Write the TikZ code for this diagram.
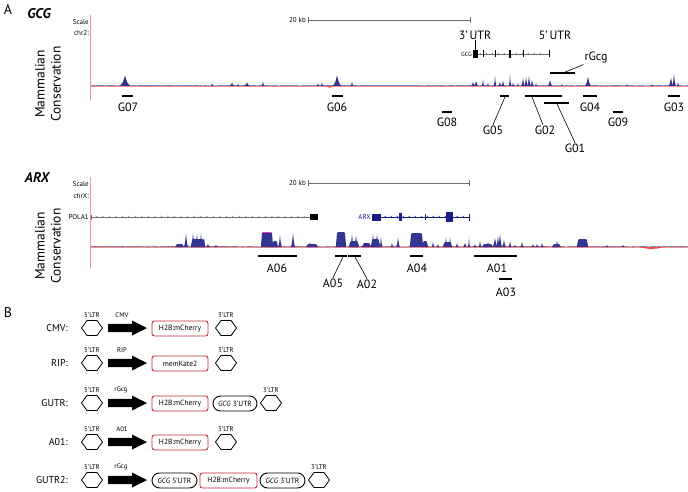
\documentclass[tikz,border=0pt]{standalone}
\usepackage{fontspec}
\setmainfont{PT Sans}
\usetikzlibrary{shapes.misc}
\definecolor{cons}{RGB}{52,52,145}
\definecolor{mred}{RGB}{196,40,52}
\definecolor{pinkline}{RGB}{236,150,150}
\definecolor{genegray}{RGB}{110,110,110}
\definecolor{arxblue}{RGB}{28,28,135}
\newcommand\pk[4]{\fill[cons] ({#1-#2},#4) -- ({#1-0.45*#2},{#4-0.35*#3}) -- (#1,{#4-#3}) -- ({#1+0.45*#2},{#4-0.35*#3}) -- ({#1+#2},#4) -- cycle;}
\newcommand\plat[4]{\fill[cons] ({#1-1.2},#4) -- (#1,{#4-#3+1.5}) -- ({#1+1},{#4-#3}) -- ({#2-1},{#4-#3}) -- (#2,{#4-#3+1.5}) -- ({#2+1.2},#4) -- cycle;}
\newcommand\hexag[2]{\draw[hexst] ({#1-10.5},#2) -- ({#1-5},{#2-7.5}) -- ({#1+5},{#2-7.5}) -- ({#1+10.5},#2) -- ({#1+5},{#2+7.5}) -- ({#1-5},{#2+7.5}) -- cycle;}
\newcommand\blockarrow[2]{\fill (#1,{#2-4.2}) -- ({#1+24},{#2-4.2}) -- ({#1+24},{#2-7.5}) -- ({#1+39},#2) -- ({#1+24},{#2+7.5}) -- ({#1+24},{#2+4.2}) -- (#1,{#2+4.2}) -- cycle;}
\begin{document}
\begin{tikzpicture}[x=1pt,y=-1pt,
  lbl/.style={font=\fontsize{12}{13}\selectfont, inner sep=0.8pt},
  tiny/.style={font=\fontsize{7}{7}\selectfont, inner sep=0},
  bar/.style={line width=1.4},
  lead/.style={line width=0.6},
  panel/.style={font=\fontsize{14}{15}\selectfont, inner sep=0},
  gname/.style={font=\fontsize{14}{15}\selectfont\bfseries\itshape, inner sep=0},
  vlab/.style={font=\fontsize{13.5}{16}\selectfont, align=center, rotate=90, inner sep=0},
  hexst/.style={line width=0.8},
  redbox/.style={draw=mred, line width=0.9, rounded corners=2.5pt, minimum height=15, inner sep=0, font=\fontsize{7.5}{8}\selectfont},
  pill/.style={draw, rounded rectangle, line width=0.9, minimum height=15, inner sep=0, font=\fontsize{7.5}{8}\selectfont},
  rowlab/.style={font=\fontsize{10}{11}\selectfont, inner sep=0, anchor=east},
  slab/.style={font=\fontsize{6.8}{7}\selectfont, inner sep=0},
  chev/.style={line width=0.4},
  scalebar/.style={line width=0.6, genegray}
]
\useasboundingbox (0,0) rectangle (688,492);

% ================= Panel A: GCG =================
\node[panel] (pa) at (8,10) {A};
\node[gname] (gcgt) at (39,14) {GCG};
\node[tiny, anchor=east] (sc1) at (89,22) {Scale};
\node[tiny, anchor=east] (ch1) at (89,33) {chr2:};
\draw[pinkline, line width=0.5] (90,15) -- (90,100);
\node[tiny, anchor=east] (kb1) at (306,20) {20 kb};
\coordinate (sb1a) at (308,20); \coordinate (sb1b) at (470,20);
\draw[scalebar] (sb1a) -- (sb1b);
\draw[scalebar] ([yshift=-3]sb1a) -- ([yshift=3]sb1a);
\draw[scalebar] ([yshift=-3]sb1b) -- ([yshift=3]sb1b);
\node[vlab] (mc1) at (48,84) {Mammalian\\Conservation};

% conservation track GCG
\pgfmathsetseed{11}
\draw[red!45, line width=0.35] (91,86.2) -- (688,86.2);
\draw[cons, line width=0.45] plot[domain=91:688, samples=320] (\x,{85.9-0.8*rnd});
\fill[red!70] (326,86.2) -- (330,87.8) -- (334,86.2) -- cycle;
\foreach \x/\w/\h in {125/5/10.5, 212/1.5/2, 232/3/3, 238/1.5/2, 247/3/3.5, 263/1.5/4.5, 318/1.8/2.5, 322/1.8/3, 337/4/10.5, 352/1.5/4, 473/2/4, 476/2.2/5, 483/1.2/7, 488/1.2/3, 495/1.4/10, 500/1.8/4, 503/1.8/5, 510/1.2/12, 513/1.5/3, 518/1.2/3, 523/1.8/8, 526/1.8/9, 529/1.8/10, 532/1.8/6, 536/1.2/3, 550/2.2/6, 562/1/2, 588/3/9, 627/1.5/1.5, 652/1.5/1.5, 671/2.4/8, 674/1.8/12, 678/1.2/4}
  {\pk{\x}{\w}{\h}{86}}

% GCG gene
\node[tiny, anchor=east, font=\fontsize{6}{6}\selectfont] (gcgg) at (472,54) {GCG};
\coordinate (gs) at (477,54); \coordinate (ge) at (549,54);
\draw[genegray, line width=0.6] (gs) -- (ge);
\foreach \x in {481,487,...,546} \draw[genegray, chev] (\x,52.8) -- ({\x-1.3},54) -- (\x,55.2);
\fill (473,50) rectangle (477.5,58);
\foreach \x in {483,495,523,549} \draw[line width=0.7] (\x,50.5) -- (\x,57.5);
\fill (509.2,50) rectangle (511.2,58);
\node[lbl] (u3) at (475,35) {3'\,UTR};
\node[lbl] (u5) at (555,35) {5'\,UTR};
\draw[lead] (u3.south) -- (475,50);
% rGcg
\coordinate (rga) at (550,73); \coordinate (rgb) at (575,73);
\draw[bar] (rga) -- (rgb);
\node[lbl] (rgcg) at (596,58) {rGcg};
\draw[lead] (563,73) -- (rgcg.south west);

% G regions
\draw[bar] (122,96) -- (133,96); \node[lbl] (g07) at (128,107) {G07};
\draw[bar] (332,96) -- (343,96); \node[lbl] (g06) at (337,107) {G06};
\draw[bar] (442,112) -- (452,112); \node[lbl] (g08) at (447,122) {G08};
\draw[bar] (500,96) -- (509,96); \node[lbl] (g05) at (493,130) {G05};
\draw[lead] (505,97) -- (g05.north);
\draw[bar] (525,96) -- (562,96); \node[lbl] (g02) at (545,130) {G02};
\draw[lead] (532,97) -- ([xshift=-2]g02.north);
\draw[bar] (544,103) -- (569,103); \node[lbl] (g01) at (575,148) {G01};
\draw[lead] (557,104) -- (g01.north);
\draw[bar] (583,96) -- (597,96); \node[lbl] (g04) at (590,107) {G04};
\draw[bar] (613,112) -- (623,112); \node[lbl] (g09) at (618,122) {G09};
\draw[bar] (668,96) -- (680,96); \node[lbl] (g03) at (674,107) {G03};

% ================= ARX =================
\node[gname] (arxt) at (37,178) {ARX};
\node[tiny, anchor=east] (sc2) at (89,184) {Scale};
\node[tiny, anchor=east] (ch2) at (89,196) {chrX:};
\draw[pinkline, line width=0.5] (90,177) -- (90,268);
\node[tiny, anchor=east] (kb2) at (306,183) {20 kb};
\coordinate (sb2a) at (308,183); \coordinate (sb2b) at (469,183);
\draw[scalebar] (sb2a) -- (sb2b);
\draw[scalebar] ([yshift=-3]sb2a) -- ([yshift=3]sb2a);
\draw[scalebar] ([yshift=-3]sb2b) -- ([yshift=3]sb2b);
\node[vlab] (mc2) at (48,246) {Mammalian\\Conservation};

% POLA1
\node[tiny, anchor=east] (pola) at (89,217) {POLA1};
\coordinate (ps) at (91,217); \coordinate (pe) at (310,217);
\draw[genegray, line width=0.6] (ps) -- (pe);
\draw[genegray, line width=0.6] (91,214.5) -- (91,219.5);
\foreach \x in {97,103.5,...,306} \draw[genegray, chev] ({\x-1.3},215.8) -- (\x,217) -- ({\x-1.3},218.2);
\fill (310,214) rectangle (318,220);

% ARX gene
\node[tiny, anchor=east, text=arxblue] (arxg) at (371,217) {ARX};
\coordinate (as) at (381,217); \coordinate (ae) at (469,217);
\draw[arxblue, line width=0.6] (as) -- (ae);
\foreach \x in {386,392,...,466} \draw[arxblue, chev] (\x,215.8) -- ({\x-1.3},217) -- (\x,218.2);
\fill[arxblue] (372,213.5) rectangle (381,220.5);
\fill[arxblue] (399,213) rectangle (401.5,221);
\draw[arxblue, line width=0.6] (425,214) -- (425,220);
\fill[arxblue] (446,212) rectangle (452.5,222);
\draw[arxblue, line width=0.8] (469,213.5) -- (469,220.5);

% conservation track ARX
\pgfmathsetseed{5}
\draw[red!45, line width=0.35] (91,247.2) -- (688,247.2);
\draw[cons, line width=0.45] plot[domain=91:688, samples=320] (\x,{246.9-0.8*rnd});
\fill[red!75] (640,247.2) .. controls (648,249.5) and (656,249.5) .. (663,247.2) -- cycle;
\foreach \a/\b/\h in {176/183/3, 192/204/8, 262/272/15, 273/277/6, 307/317/3, 337/345/15, 350/358/6, 363/370/4, 372/379/8, 411/422/14, 423/427/6, 444/451/5, 483/492/3, 553/560/3, 578/587/8}
  {\plat{\a}{\b}{\h}{247}}
\draw[magenta!80, line width=0.9] (263,232.3) -- (271,232.3);
\foreach \x/\w/\h in {186/2/14, 193/2/14, 197/2/13, 201/1.8/14, 204/1.5/10, 208/2/3, 216/2/2, 275/2/7, 280/1.8/12, 293/2/14, 310/1.5/5, 352/2/13, 356/2/12, 373/2/13, 377/2/13, 381/1.5/10, 392/1.5/4, 398/1.8/10, 433/1.5/5, 438/1.5/3, 446/1.5/10, 450/1.5/10, 457/1.5/4, 465/2/4, 469/1/10, 475/1.5/3, 480/1.5/6, 488/2/5, 495/2.5/9, 498/2/11, 500/2/13, 504/2/7, 510/1.5/6, 515/1.5/2, 522/1.5/5, 533/1.5/3, 537/1.5/3, 542/1.5/4, 557/2/6, 607/1.5/2, 623/1.5/2}
  {\pk{\x}{\w}{\h}{247}}

% A regions
\draw[bar] (258,256) -- (297,256); \node[lbl] (a06) at (277,268) {A06};
\draw[bar] (335,256) -- (347,256); \node[lbl] (a05) at (333,283) {A05};
\draw[lead] (343,257) -- (a05.north);
\draw[bar] (348,256) -- (361,256); \node[lbl] (a02) at (367,284) {A02};
\draw[lead] (355,257) -- (a02.north);
\draw[bar] (410,256) -- (423,256); \node[lbl] (a04) at (417,268) {A04};
\draw[bar] (474,256) -- (517,256); \node[lbl] (a01) at (497,268) {A01};
\draw[bar] (499,279) -- (512,279); \node[lbl] (a03) at (506,292) {A03};

% ================= Panel B =================
\node[panel] (pb) at (8,313) {B};

% CMV row
\node[rowlab] (rcmv) at (68,328) {CMV:};
\hexag{92}{328} \node[slab] at (92,315) {5'LTR};
\blockarrow{108}{328} \node[slab] (pcmv) at (122,315) {CMV};
\node[redbox, minimum width=56] (bcmv) at (180,328.5) {H2B:mCherry};
\hexag{226}{328} \node[slab] at (226,315) {3'LTR};

% RIP row
\node[rowlab] (rrip) at (68,363) {RIP:};
\hexag{92}{363} \node[slab] at (92,350) {5'LTR};
\blockarrow{108}{363} \node[slab] (prip) at (122,350) {RIP};
\node[redbox, minimum width=56] (brip) at (180,363.5) {memKate2};
\hexag{226}{363} \node[slab] at (226,350) {3'LTR};

% GUTR row
\node[rowlab] (rgutr) at (68,403) {GUTR:};
\hexag{92}{403} \node[slab] at (92,390) {5'LTR};
\blockarrow{108}{403} \node[slab] (pgutr) at (121,390) {rGcg};
\node[redbox, minimum width=56] (bgutr) at (180,403.5) {H2B:mCherry};
\node[pill, minimum width=44] (ugutr) at (235,403.5) {\textit{GCG} 3'UTR};
\hexag{271}{403} \node[slab] at (271,390) {3'LTR};

% A01 row
\node[rowlab] (ra01) at (68,442) {A01:};
\hexag{92}{442} \node[slab] at (92,429) {5'LTR};
\blockarrow{108}{442} \node[slab] (pa01) at (122,429) {A01};
\node[redbox, minimum width=56] (ba01) at (180,442.5) {H2B:mCherry};
\hexag{226}{442} \node[slab] at (226,429) {3'LTR};

% GUTR2 row
\node[rowlab] (rgutr2) at (68,480) {GUTR2:};
\hexag{92}{480} \node[slab] at (92,467) {5'LTR};
\blockarrow{108}{480} \node[slab] (pgutr2) at (121,467) {rGcg};
\node[pill, minimum width=45] (u5gutr2) at (174.5,480.5) {\textit{GCG} 5'UTR};
\node[redbox, minimum width=57] (bgutr2) at (228.5,480.5) {H2B:mCherry};
\node[pill, minimum width=45] (u3gutr2) at (282.5,480.5) {\textit{GCG} 3'UTR};
\hexag{319}{480} \node[slab] at (319,467) {3'LTR};
\end{tikzpicture}
\end{document}
